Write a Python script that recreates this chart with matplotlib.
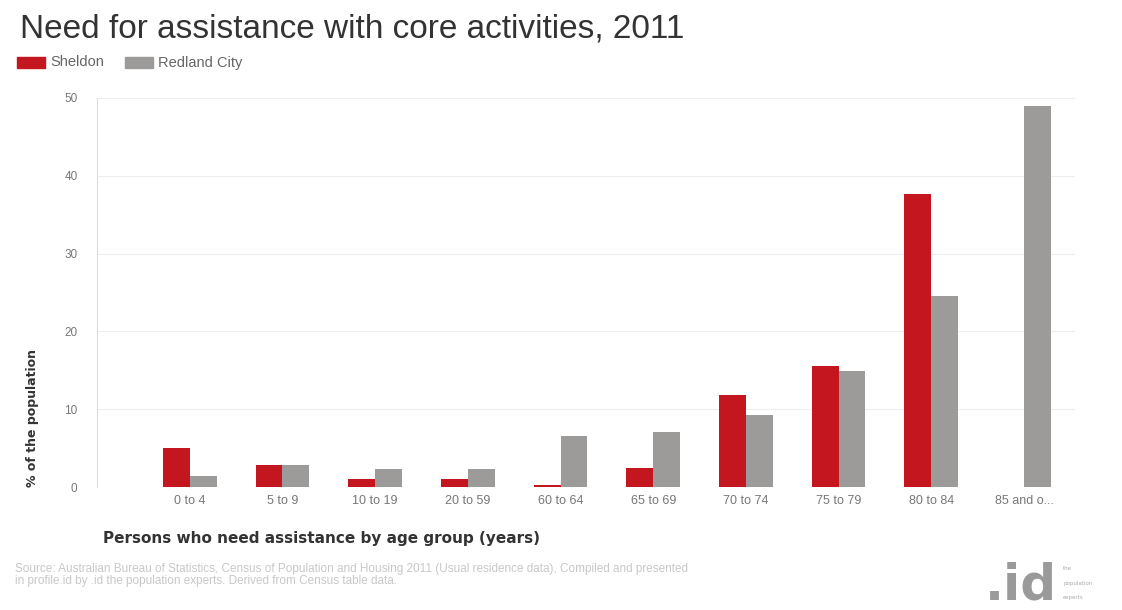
import matplotlib
matplotlib.use("Agg")
import matplotlib.pyplot as plt
import numpy as np
from matplotlib.patches import Rectangle

categories = ["0 to 4", "5 to 9", "10 to 19", "20 to 59", "60 to 64",
              "65 to 69", "70 to 74", "75 to 79", "80 to 84", "85 and o..."]
sheldon = [5.0, 2.8, 1.0, 1.0, 0.2, 2.4, 11.8, 15.5, 37.7, 0.0]
redland = [1.4, 2.8, 2.3, 2.3, 6.5, 7.1, 9.2, 14.9, 24.5, 49.0]
yticks = [0, 10, 20, 30, 40, 50]

RED = "#c3161f"
GRAY = "#9d9a9a"
ARIAL = "Liberation Sans"

fig = plt.figure(figsize=(11.22, 6.10), dpi=100)
ax = fig.add_axes([97/1122, 1-487/610, (1075-97)/1122, (487-98)/610])

x = np.arange(len(categories))
w = 0.29
ax.bar(x - w/2, sheldon, w, color=RED, label="Sheldon")
ax.bar(x + w/2, redland, w, color=GRAY, label="Redland City")

ax.set_xlim(-1, 9.55)
ax.set_ylim(0, 50)
ax.set_yticks(yticks)
ax.set_yticklabels([str(t) for t in yticks], fontsize=8.5, color="#777777", family=ARIAL)
ax.set_xticks(x)
ax.set_xticklabels(categories, fontsize=9, color="#777777", family=ARIAL)
ax.tick_params(axis="y", length=0, pad=14)
ax.tick_params(axis="x", length=0, pad=6)
for s in ["top", "right", "bottom"]:
    ax.spines[s].set_visible(False)
ax.spines["left"].set_color("#dddddd")
ax.grid(axis="y", color="#eeeeee", linewidth=0.8)
ax.set_axisbelow(True)

fig.text(20/1122, 1-29/610, "Need for assistance with core activities, 2011",
         fontsize=24, color="#333333", va="center", ha="left", family=ARIAL)

# legend
fig.patches.append(Rectangle((17/1122, 1-68/610), 28/1122, 11/610,
                             transform=fig.transFigure, color=RED))
fig.text(50/1122, 1-62.5/610, "Sheldon", fontsize=10.5, color="#666666",
         va="center", family=ARIAL)
fig.patches.append(Rectangle((125/1122, 1-68/610), 28/1122, 11/610,
                             transform=fig.transFigure, color=GRAY))
fig.text(158/1122, 1-62.5/610, "Redland City", fontsize=10.5, color="#666666",
         va="center", family=ARIAL)

fig.text(33/1122, 1-418/610, "% of the population", rotation=90, fontsize=9,
         fontweight="bold", color="#333333", va="center", ha="center")
fig.text(103/1122, 1-538/610, "Persons who need assistance by age group (years)",
         fontsize=11, fontweight="bold", color="#333333", va="center", ha="left")

fig.text(15/1122, 1-569/610,
         "Source: Australian Bureau of Statistics, Census of Population and Housing 2011 (Usual residence data), "
         "Compiled and presented",
         fontsize=8.5, color="#c8c8c8", va="center", family=ARIAL)
fig.text(15/1122, 1-581/610,
         "in profile.id by .id the population experts. Derived from Census table data.",
         fontsize=8.5, color="#c8c8c8", va="center", family=ARIAL)

fig.text(985/1122, 1-585/610, ".id", fontsize=36, fontweight="bold",
         color="#9a9a9a", va="center", ha="left")
fig.text(1063/1122, 1-568/610, "the", fontsize=4, color="#aaaaaa", va="center")
fig.text(1063/1122, 1-583/610, "population", fontsize=4, color="#aaaaaa", va="center")
fig.text(1063/1122, 1-598/610, "experts", fontsize=4, color="#aaaaaa", va="center")

fig.savefig("out.png", dpi=100, facecolor="white")
